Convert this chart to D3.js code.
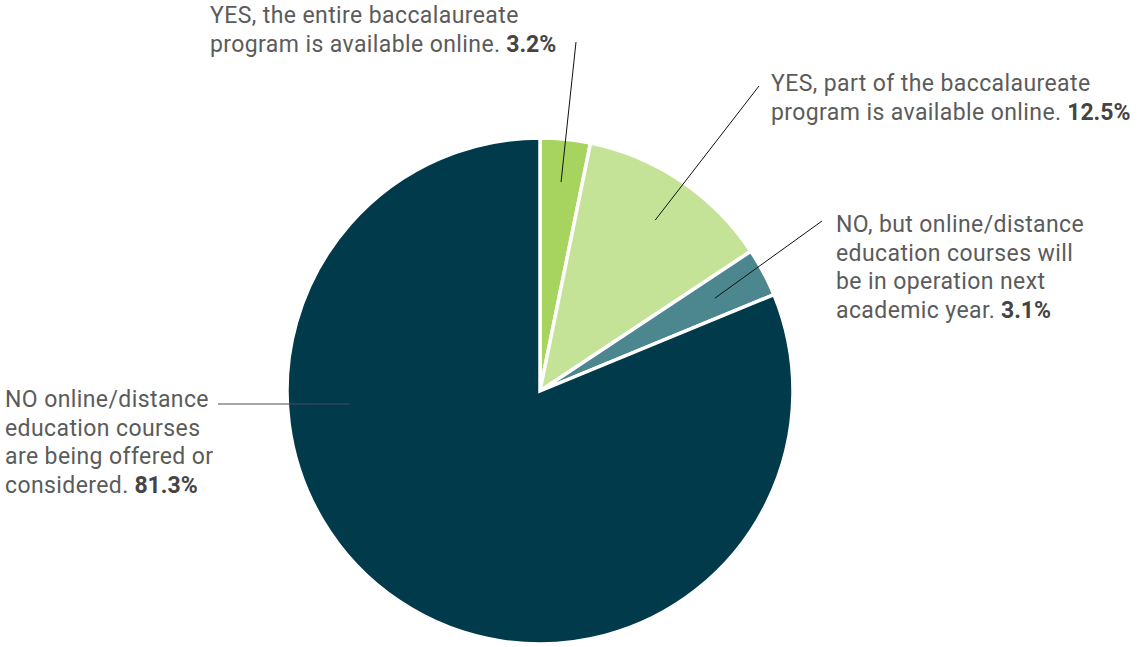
<!DOCTYPE html>
<html>
<head>
<meta charset="utf-8">
<script src="https://cdn.jsdelivr.net/npm/d3@7"></script>
<style>
  body { margin: 0; background: #fff; }
  svg text { font-family: Roboto, "Open Sans", sans-serif; font-size: 23px; letter-spacing: 0.4px; fill: #5b5b5b; }
  svg text .pct { font-weight: bold; fill: #444; letter-spacing: 0; }
</style>
</head>
<body>
<div id="chart"></div>
<script>
// slices, clockwise from 12 o'clock
var categories = ["entire", "part", "next", "none"];
var values = [3.2, 12.5, 3.1, 81.3];
var colors = ["#a6d45f", "#c5e397", "#4c868e", "#003a4b"];
var labelLines = [
  ["YES, the entire baccalaureate", "program is available online."],
  ["YES, part of the baccalaureate", "program is available online."],
  ["NO, but online/distance", "education courses will", "be in operation next", "academic year."],
  ["NO online/distance", "education courses", "are being offered or", "considered."]
];

var svgWidth = 1140;
var svgHeight = 647;
var cx = 540, cy = 391, radius = 253;

var svg = d3.select("#chart")
  .append("svg")
  .attr("width", svgWidth)
  .attr("height", svgHeight);

var pieGroup = svg.append("g")
  .attr("transform", `translate(${cx}, ${cy})`);

var pie = d3.pie().sort(null).value(d => d);
var arcs = pie(values);

var arc = d3.arc().innerRadius(0).outerRadius(radius);

pieGroup.selectAll("path")
  .data(arcs)
  .enter()
  .append("path")
  .attr("d", arc)
  .attr("fill", (d, i) => colors[i])
  .attr("stroke", "#fff")
  .attr("stroke-width", 3.5)
  .attr("stroke-linejoin", "miter");

// label placement (left edge x, first baseline y) and leader end near the text
var labelPos = [
  { x: 210, y: 23, lx: 576, ly: 42 },
  { x: 771, y: 91, lx: 759, ly: 86 },
  { x: 836, y: 232, lx: 822, ly: 221 },
  { x: 5, y: 407, lx: 218, ly: 404 }
];
var lineHeight = 28.5;

// leader lines: start inside the slice
arcs.forEach(function(d, i) {
  var a, r;
  if (i === 3) {
    // horizontal leader into the big slice
    r = 191;
    a = -Math.PI / 2 - Math.asin((labelPos[i].ly - cy) / r);
  } else {
    a = (d.startAngle + d.endAngle) / 2;
    r = [210, 206, 198][i];
  }
  var px = cx + r * Math.sin(a);
  var py = cy - r * Math.cos(a);
  svg.append("line")
    .attr("x1", px).attr("y1", py)
    .attr("x2", labelPos[i].lx).attr("y2", labelPos[i].ly)
    .attr("stroke", i === 3 ? "#4a4a5e" : "#111")
    .attr("stroke-width", 1);
});

// labels
labelLines.forEach(function(lines, i) {
  var t = svg.append("text")
    .attr("x", labelPos[i].x)
    .attr("y", labelPos[i].y);
  lines.forEach(function(line, j) {
    t.append("tspan")
      .attr("x", labelPos[i].x)
      .attr("y", labelPos[i].y + j * lineHeight)
      .text(line);
    if (j === lines.length - 1) {
      t.append("tspan")
        .attr("class", "pct")
        .text(" " + values[i].toFixed(1) + "%");
    }
  });
});
</script>
</body>
</html>
